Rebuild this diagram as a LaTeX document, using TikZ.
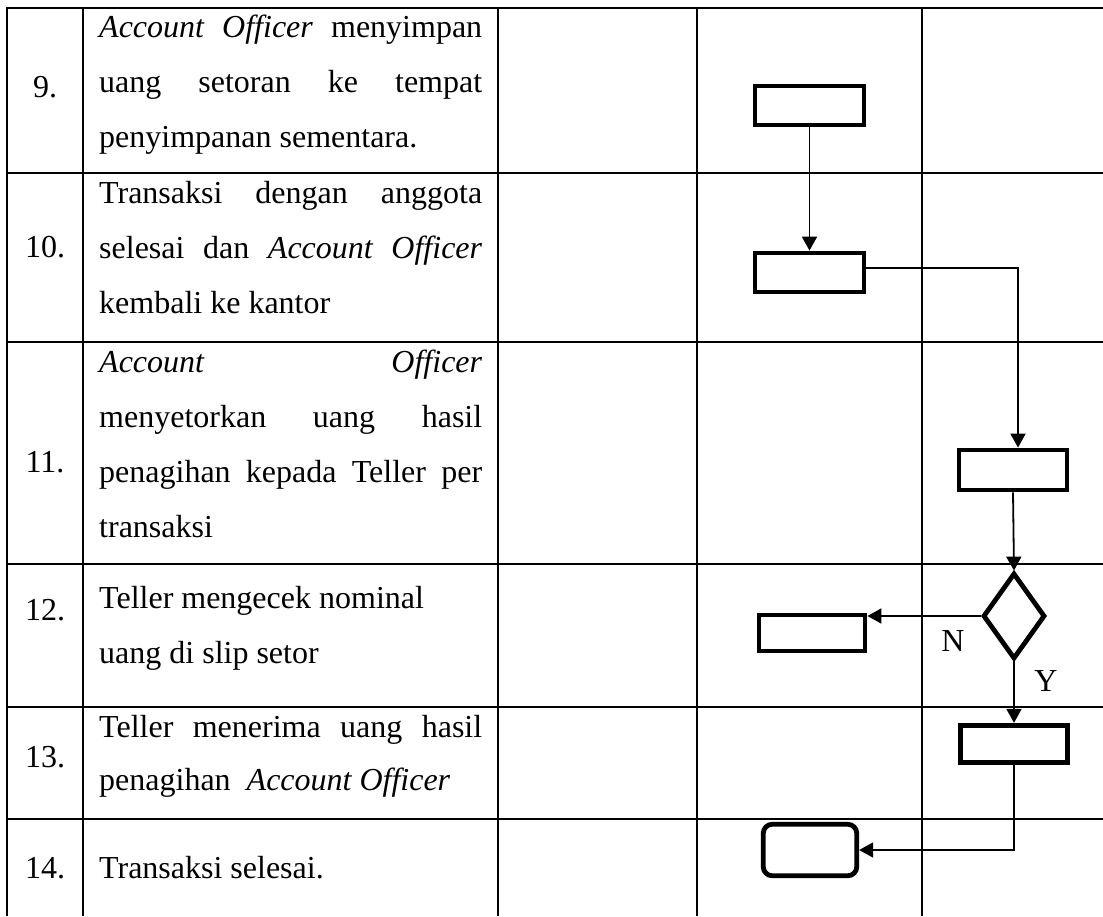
\documentclass[tikz,border=0pt]{standalone}
\usepackage{fontspec}
\setmainfont{Liberation Serif}
\usetikzlibrary{arrows.meta,shapes.geometric}

% one justified text line of the description column
\newcommand\justline[1]{\makebox[383pt][s]{#1}}

\begin{document}
\begin{tikzpicture}[x=1pt,y=-1pt,
  gridline/.style={line width=2pt},
  txt/.style={anchor=base west,inner sep=0pt,font=\fontsize{32}{55}\selectfont},
  num/.style={anchor=base,inner sep=0pt,font=\fontsize{32}{55}\selectfont},
  flowbox/.style={draw,line width=4.8pt,inner sep=0pt,minimum width=109pt,minimum height=39pt},
  decision/.style={draw,diamond,line width=4.8pt,inner sep=0pt,minimum width=62pt,minimum height=86pt},
  conn/.style={line width=1.8pt,-{Triangle[length=14pt,width=15pt]}},
  lbl/.style={inner sep=0pt,font=\fontsize{32}{36}\selectfont}]

\useasboundingbox (0,0) rectangle (1103,916);

% table rules
\foreach \yy in {8,173,342,564,707,819}
  \draw[gridline] (7,\yy) -- (1103,\yy);
\foreach \xx in {7,83,498,697,922}
  \draw[gridline] (\xx,7) -- (\xx,916);

% step numbers
\node[num] (n9)  at (45,97)  {9.};
\node[num] (n10) at (45,257) {10.};
\node[num] (n11) at (45,472) {11.};
\node[num] (n12) at (45,620) {12.};
\node[num] (n13) at (45,767) {13.};
\node[num] (n14) at (45,878) {14.};

% step descriptions
\node[txt] (t9a) at (99,37)  {\justline{\textit{Account Officer} menyimpan}};
\node[txt] (t9b) at (99,92)  {\justline{uang setoran ke tempat}};
\node[txt] (t9c) at (99,147) {penyimpanan sementara.};

\node[txt] (t10a) at (99,203) {\justline{Transaksi dengan anggota}};
\node[txt] (t10b) at (99,258) {\justline{selesai dan \textit{Account Officer}}};
\node[txt] (t10c) at (99,313) {kembali ke kantor};

\node[txt] (t11a) at (99,372) {\justline{\textit{Account Officer}}};
\node[txt] (t11b) at (99,427) {\justline{menyetorkan uang hasil}};
\node[txt] (t11c) at (99,482) {\justline{penagihan kepada Teller per}};
\node[txt] (t11d) at (99,537) {transaksi};

\node[txt] (t12a) at (99,608) {Teller mengecek nominal};
\node[txt] (t12b) at (99,663) {uang di slip setor};

\node[txt] (t13a) at (99,737) {\justline{Teller menerima uang hasil}};
\node[txt] (t13b) at (99,790) {penagihan \ \textit{Account Officer}};

\node[txt] (t14a) at (99,878) {Transaksi selesai.};

% flowchart symbols
\node[flowbox] (a) at (809.5,105.5) {};
\node[flowbox] (b) at (809.5,272.5) {};
\node[flowbox,minimum width=108pt,minimum height=40pt] (c) at (1013,470) {};
\node[decision] (d) at (1014,616) {};
\node[flowbox,minimum width=106pt,minimum height=36pt] (e) at (812,633) {};
\node[flowbox,minimum width=107.5pt,minimum height=37.5pt] (f) at (1014,744) {};
\node[flowbox,rounded corners=9pt,minimum width=93.5pt,minimum height=51.5pt] (g) at (810,850) {};

% branch labels
\node[lbl] (nlab) at (953,641) {N};
\node[lbl] (ylab) at (1046,681) {Y};

% connectors
\draw[conn] (a.south) -- (b.north);
\draw[conn] ([yshift=4.5pt]b.east) -| ([xshift=5pt]c.north);
\draw[conn] (c.south) -- (d.north);
\draw[conn] (d.west) -- (e.east |- d.west);
\draw[conn] (d.south) -- (f.north);
\draw[conn] (f.south) |- (g.east);

\end{tikzpicture}
\end{document}
